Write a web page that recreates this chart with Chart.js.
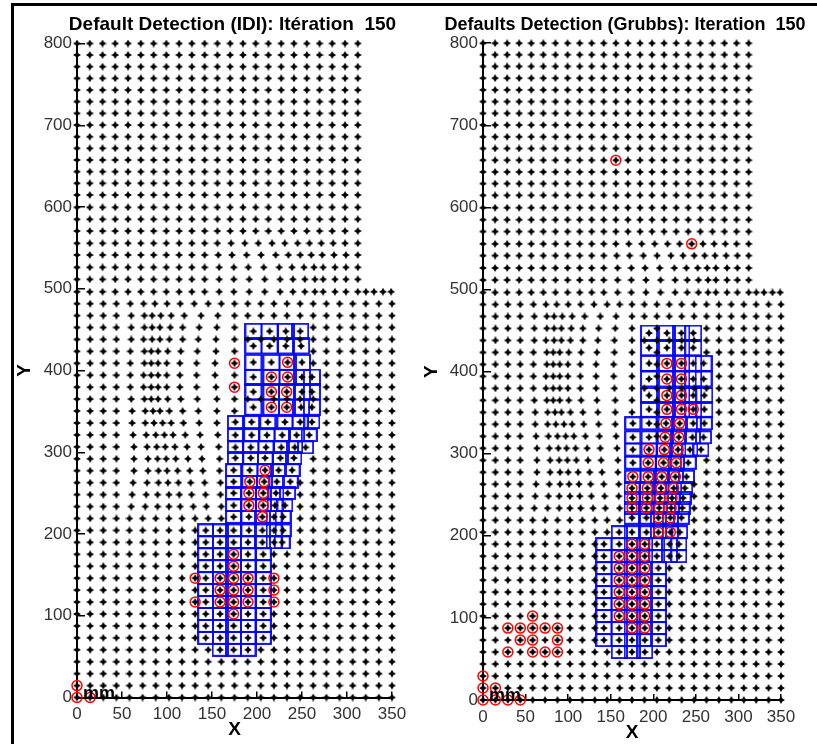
<!DOCTYPE html>
<html>
<head>
<meta charset="utf-8">
<script src="https://cdn.jsdelivr.net/npm/chart.js@4/dist/chart.umd.min.js"></script>
<style>
html, body { margin: 0; padding: 0; background: #fff; }
#frame { position: absolute; left: 11px; top: 3px; width: 806px; height: 741px; border-left: 3px solid #000; border-top: 3px solid #000; }
#idi { position: absolute; left: 0; top: 0; }
#grubbs { position: absolute; left: 408px; top: 0; }
</style>
</head>
<body>
<div id="frame"></div>
<canvas id="idi" width="408" height="744"></canvas>
<canvas id="grubbs" width="409" height="744"></canvas>
<script>
// mesh node columns (mm): wide lower part and narrower upper part
const colX = [0, 14.6, 29.2, 43.8, 58.3, 72.9, 87.5, 102.1, 116.7, 131.3, 145.8, 160.4, 175, 189.6, 204.2, 218.8, 233.3, 247.9, 262.5, 277.1, 291.7, 306.3, 320.8, 335.4, 350];
const colXTop = [0, 14.2, 28.4, 42.5, 56.7, 70.9, 85.1, 99.3, 113.5, 127.6, 141.8, 156, 170.2, 184.4, 198.5, 212.7, 226.9, 241.1, 255.3, 269.5, 283.6, 297.8, 312];
// mesh node rows (mm)
const rowY = [0, 14.6, 29.2, 43.8, 58.4, 73, 87.6, 102.2, 116.8, 131.4, 146, 160.6, 175.2, 189.8, 204.4, 219, 233.6, 248.2, 262.8, 277.4, 292, 306.6, 321.2, 335.8, 350.4, 365, 379.6, 394.2, 408.8, 423.4, 438, 452.6, 467.2, 481.8, 496.4, 511.5, 526.2, 541.3, 555.6, 570.6, 585, 599.6, 614.7, 629, 643.2, 657.5, 671.8, 686, 700.3, 714.6, 728.9, 743.1, 757.4, 771.7, 786, 800];
const shoulderY = 490;
const shoulderRow = 496.4;
const shoulderX = [321, 330, 340, 349];

// horizontal displacement (mm) of nodes left of the damaged band
const warpCols = [58.3, 72.9, 87.5, 102.1, 116.7, 131.3, 145.8, 160.4];
const warpRows = [
  [481.8, [1, 1, -1, -2, -2, -1, 0, 0]],
  [467.2, [2, 2, -4, -9, -12, -12, -8, -4]],
  [452.6, [2, 2, -4, -10, -13, -14, -10, -5]],
  [438, [2, 1, -4, -10, -14, -14, -11, -6]],
  [423.4, [1, 2, -5, -12, -16, -16, -12, -6]],
  [408.8, [1, 2, -5, -12, -17, -17, -13, -7]],
  [394.2, [1, 1, -5, -12, -17, -17, -13, -7]],
  [379.6, [1, 1, -5, -12, -17, -17, -13, -6]],
  [365, [2, 2, -5, -12, -16, -16, -12, -5]],
  [350.4, [3, 3, -3, -10, -14, -14, -11, -5]],
  [335.8, [3, 3, -2, -7, -12, -13, -10, -5]],
  [321.2, [4, 4, 0, -5, -10, -11, -9, -4]],
  [306.6, [5, 5, 1, -4, -8, -9, -8, -3]],
  [292, [5, 6, 2, -3, -7, -8, -7, -2]],
  [277.4, [5, 6, 3, -2, -5, -6, -6, -2]],
  [262.8, [4, 5, 3, -1, -4, -5, -4, -1]],
  [248.2, [3, 4, 2, 0, -3, -4, -3, -1]],
  [233.6, [2, 3, 2, 0, -2, -2, -2, 0]]
];
// horizontal displacement (mm) of nodes just above the band, upper part
const warpTopCols = [156, 170.2, 184.4, 198.5, 212.7, 226.9, 241.1, 255.3, 269.5, 283.6, 297.8];
const warpTopRows = [
  [496.4, [2, 4, 7, 10, 13, 13, 12, 9, 4, 3, 1]],
  [511.5, [2, 4, 7, 10, 13, 13, 12, 9, 4, 3, 1]],
  [526.2, [2, 4, 6, 9, 12, 12, 11, 8, 4, 3, 1]],
  [541.3, [1, 2, 4, 6, 8, 8, 7, 5, 3, 2, 1]],
  [555.6, [0, 1, 2, 3, 4, 4, 4, 3, 2, 1, 0]]
];

const xTicks = [0, 50, 100, 150, 200, 250, 300, 350];
const yTicks = [0, 100, 200, 300, 400, 500, 600, 700, 800];

// damaged cells, one entry per row: [y, [x...]]
const idiCells = [
  [448, [196, 214, 232, 248]],
  [430, [196, 214, 232, 249]],
  [410, [196, 216, 234, 250]],
  [392, [196, 216, 234, 250, 261]],
  [374, [196, 216, 233, 250, 261]],
  [355, [196, 216, 233, 249, 261]],
  [337, [176, 194, 212, 231, 248, 261]],
  [321, [176, 194, 211, 228, 244, 258]],
  [306, [176, 193, 210, 227, 242, 254]],
  [293, [176, 193, 209, 226, 241]],
  [278, [174, 192, 209, 224, 239]],
  [264, [174, 192, 208, 222, 237]],
  [250, [174, 191, 207, 221, 234]],
  [235, [174, 191, 207, 220, 231]],
  [221, [174, 191, 206, 219, 229]],
  [204.4, [143, 159, 174, 191, 206, 219, 229]],
  [189.8, [143, 159, 174, 190, 206, 219, 228]],
  [175.2, [143, 159, 174, 190, 207]],
  [160.6, [143, 159, 174, 190, 207]],
  [146, [143, 159, 174, 190, 207]],
  [131.4, [143, 159, 174, 190, 207]],
  [116.8, [143, 159, 174, 190, 207]],
  [102.2, [143, 159, 174, 190, 207]],
  [87.6, [143, 159, 174, 190, 207]],
  [73, [143, 159, 174, 190, 207]],
  [58.4, [159, 174, 190]]
];
const grubbsCells = [
  [447, [195, 216, 233, 247]],
  [429, [195, 216, 233, 247]],
  [410, [195, 216, 233, 247, 259]],
  [391, [195, 216, 233, 247, 259]],
  [371, [195, 216, 233, 247, 260]],
  [354, [195, 216, 233, 247, 260]],
  [337, [176, 195, 215, 231, 247, 260]],
  [320, [176, 195, 214, 230, 246, 259]],
  [305, [176, 195, 213, 229, 243, 256]],
  [289, [176, 194, 212, 227, 241]],
  [272, [176, 194, 210, 226, 239]],
  [258, [175, 193, 209, 224, 237]],
  [246, [175, 193, 208, 222, 235]],
  [234, [175, 192, 207, 221, 234]],
  [222, [175, 192, 206, 220, 233]],
  [204.4, [160, 175, 192, 206, 220, 231]],
  [189.8, [142, 160, 175, 190, 204, 219, 230]],
  [175.2, [142, 160, 175, 190, 204, 219, 230]],
  [160.6, [142, 160, 175, 190, 206]],
  [146, [142, 160, 175, 190, 206]],
  [131.4, [142, 160, 175, 190, 206]],
  [116.8, [142, 160, 175, 190, 206]],
  [102.2, [142, 160, 175, 190, 206]],
  [87.6, [142, 160, 175, 190, 206]],
  [73, [142, 160, 175, 190, 206]],
  [58.4, [160, 175, 190]]
];

// detected defaults: [x, y]
const idiFlags = [
  [175, 408.8], [175, 379.6],
  [234, 410], [216, 392], [234, 392], [216, 374], [233, 374], [216, 355], [233, 355],
  [209, 278], [192, 264], [208, 264], [191, 250], [207, 250], [191, 235], [207, 235], [206, 221],
  [174, 175.2], [174, 160.6], [174, 146], [174, 131.4], [174, 116.8], [174, 102.2],
  [159, 146], [159, 131.4], [159, 116.8], [190, 146], [190, 131.4], [190, 116.8],
  [131.3, 146], [131.3, 116.8], [218.8, 146], [218.8, 131.4], [218.8, 116.8],
  [0, 14.6], [0, 0], [14.6, 0]
];
const grubbsFlags = [
  [156, 657.5], [245.1, 555.6],
  [216, 410], [233, 410], [216, 391], [233, 391], [216, 371], [233, 371], [216, 354], [233, 354], [247, 354],
  [215, 337], [231, 337], [214, 320], [230, 320], [213, 305], [229, 305], [195, 305],
  [212, 289], [227, 289], [194, 289], [210, 272], [226, 272], [176, 272], [194, 272],
  [175, 258], [193, 258], [209, 258], [224, 258], [175, 246], [193, 246], [208, 246], [222, 246],
  [175, 234], [192, 234], [207, 234], [221, 234], [206, 222], [220, 222], [206, 204.4], [220, 204.4],
  [175, 189.8], [190, 189.8],
  [160, 175.2], [160, 160.6], [160, 146], [160, 131.4], [160, 116.8], [160, 102.2],
  [175, 175.2], [175, 160.6], [175, 146], [175, 131.4], [175, 116.8], [175, 102.2], [175, 87.6],
  [190, 175.2], [190, 160.6], [190, 146], [190, 131.4], [190, 116.8], [190, 102.2], [190, 87.6],
  [58.3, 102.2], [29.2, 87.6], [43.8, 87.6], [58.3, 87.6], [72.9, 87.6], [87.5, 87.6],
  [43.8, 73], [58.3, 73], [87.5, 73], [29.2, 58.4], [58.3, 58.4], [72.9, 58.4], [87.5, 58.4],
  [0, 29.2], [0, 14.6], [14.6, 14.6], [0, 0], [14.6, 0], [29.2, 0], [43.8, 0]
];

const FONT = '"Liberation Sans", Arial, sans-serif';

function cellPoints(rows) {
  const pts = [];
  rows.forEach(([y, xs]) => xs.forEach(x => pts.push({ x: x, y: y })));
  return pts;
}

function shifted(x, y, cols, rows) {
  const row = rows.find(r => r[0] === y);
  const k = cols.indexOf(x);
  return row && k >= 0 ? x + row[1][k] : x;
}

// mesh nodes; nodes inside a damaged cell sit at the cell centre
function meshNodes(cells) {
  const centres = cellPoints(cells);
  const pts = [];
  rowY.forEach(y => {
    const top = y > shoulderY;
    (top ? colXTop : colX).forEach(x => {
      const px = top ? shifted(x, y, warpTopCols, warpTopRows) : shifted(x, y, warpCols, warpRows);
      const covered = centres.some(c => Math.abs(c.x - px) < 9 && Math.abs(c.y - y) < 8);
      if (!covered) pts.push({ x: px, y: y });
    });
  });
  shoulderX.forEach(x => pts.push({ x: x, y: shoulderRow }));
  return pts.concat(centres);
}

function starGlyph() {
  const c = document.createElement('canvas');
  c.width = 8; c.height = 8;
  const g = c.getContext('2d');
  g.fillStyle = '#000';
  g.beginPath();
  g.moveTo(4, 0); g.lineTo(5.4, 2.6); g.lineTo(8, 4); g.lineTo(5.4, 5.4);
  g.lineTo(4, 8); g.lineTo(2.6, 5.4); g.lineTo(0, 4); g.lineTo(2.6, 2.6);
  g.closePath();
  g.fill();
  return c;
}

function boxGlyph(w, h) {
  const c = document.createElement('canvas');
  c.width = w + 2; c.height = h + 2;
  const g = c.getContext('2d');
  g.strokeStyle = '#0000ff';
  g.lineWidth = 1.8;
  g.strokeRect(1, 1, w, h);
  return c;
}

const panelText = {
  id: 'panelText',
  afterDatasetsDraw(chart, args, opts) {
    const ctx = chart.ctx;
    const area = chart.chartArea;
    ctx.save();
    ctx.fillStyle = '#000';
    ctx.textBaseline = 'alphabetic';
    ctx.textAlign = 'center';
    ctx.font = 'bold ' + opts.titleSize + 'px ' + FONT;
    ctx.fillText(opts.title, opts.titleX, 29.5);
    ctx.textAlign = 'left';
    ctx.font = 'bold 18px ' + FONT;
    ctx.fillText('mm', area.left + 6, area.bottom + opts.mmDrop);
    ctx.restore();
  }
};

const star = starGlyph();
const tallBox = boxGlyph(16, 15);
const flatBox = boxGlyph(15, 12);

function panel(id, cfg) {
  return new Chart(document.getElementById(id), {
    type: 'scatter',
    data: {
      datasets: [
        { label: 'nodes', data: meshNodes(cfg.cells), pointStyle: star, pointRadius: 4, order: 0, clip: false },
        { label: 'defaults', data: cfg.flags.map(p => ({ x: p[0], y: p[1] })), pointStyle: 'circle', pointRadius: 5,
          borderColor: '#ff0000', borderWidth: 1.5, backgroundColor: 'rgba(0,0,0,0)', order: 1, clip: false },
        { label: 'cells', data: cellPoints(cfg.cells), pointRadius: 8, order: 2, clip: false,
          pointStyle: ctx => (ctx.raw && ctx.raw.y > 340 ? tallBox : flatBox) }
      ]
    },
    options: {
      responsive: false,
      animation: false,
      events: [],
      layout: { padding: { left: cfg.padLeft, right: cfg.padRight, top: cfg.top, bottom: 0 } },
      plugins: {
        legend: { display: false },
        tooltip: { enabled: false },
        panelText: { title: cfg.title, titleX: cfg.titleX, titleSize: cfg.titleSize, mmDrop: cfg.mmDrop }
      },
      scales: {
        x: {
          type: 'linear', position: 'bottom', min: 0, max: 350,
          afterBuildTicks: s => { s.ticks = xTicks.map(v => ({ value: v })); },
          ticks: { color: '#333', font: { family: FONT, size: 17 }, padding: 13, maxRotation: 0, autoSkip: false },
          grid: { drawOnChartArea: false, tickLength: -6, color: '#000', lineWidth: 1.5 },
          border: { color: '#000', width: 2 },
          title: { display: true, text: 'X', color: '#000', font: { family: FONT, size: 19, weight: 'bold' }, padding: { top: 0, bottom: cfg.xTitlePad } },
          afterFit: s => { s.height = cfg.xHeight; s.paddingLeft = 0; s.paddingRight = 0; }
        },
        y: {
          type: 'linear', position: 'left', min: 0, max: 800,
          afterBuildTicks: s => { s.ticks = yTicks.map(v => ({ value: v })); },
          ticks: { color: '#333', font: { family: FONT, size: 17 }, padding: 13, autoSkip: false },
          grid: { drawOnChartArea: false, tickLength: -8, color: '#000', lineWidth: 1.5 },
          border: { color: '#000', width: 2 },
          title: { display: true, text: 'Y', color: '#000', font: { family: FONT, size: 19, weight: 'bold' }, padding: { top: 3.5, bottom: 0 } },
          afterFit: s => { s.width = cfg.yWidth; s.paddingTop = 0; s.paddingBottom = 0; }
        }
      }
    },
    plugins: [panelText]
  });
}

panel('idi', {
  title: 'Default Detection (IDI): Itération  150', titleX: 232.5, titleSize: 19,
  flags: idiFlags, cells: idiCells,
  padLeft: 10, padRight: 16, top: 43.5, yWidth: 67, xHeight: 46.5, xTitlePad: 2.5, mmDrop: 1.5
});
panel('grubbs', {
  title: 'Defaults Detection (Grubbs): Iteration  150', titleX: 217, titleSize: 18,
  flags: grubbsFlags, cells: grubbsCells,
  padLeft: 9, padRight: 36, top: 43.2, yWidth: 66, xHeight: 44, xTitlePad: 0, mmDrop: 1
});
</script>
</body>
</html>
